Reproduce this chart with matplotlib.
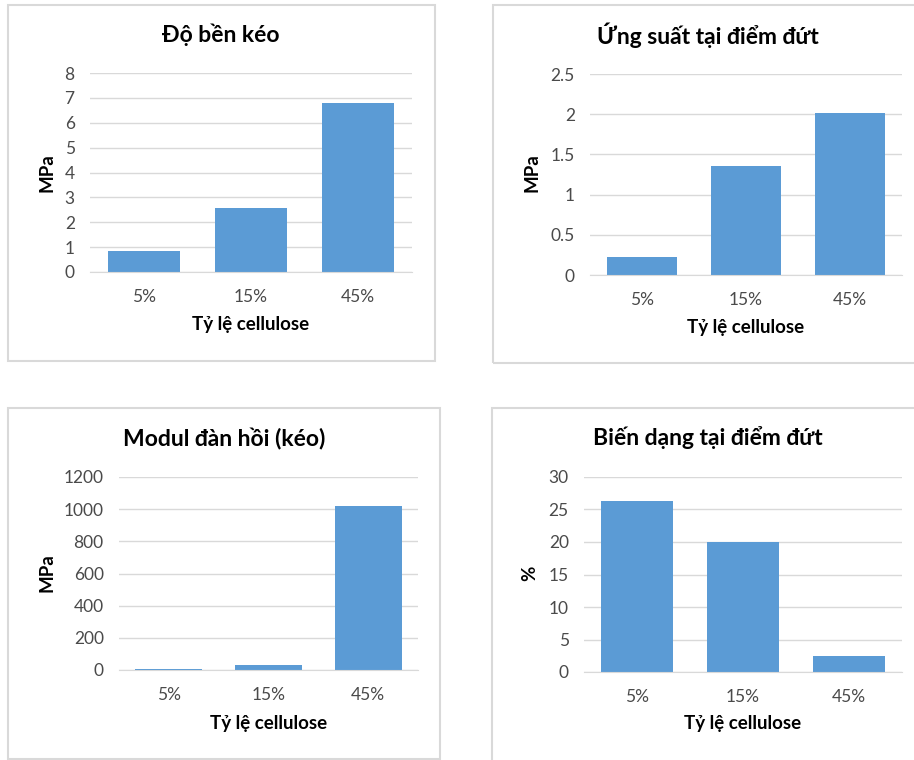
import matplotlib
matplotlib.use('Agg')
from matplotlib import pyplot as plt
from matplotlib.patches import Rectangle

plt.rcParams['font.family'] = ['Lato', 'Noto Sans', 'DejaVu Sans']

# data for the four panels
categories = ['5%', '15%', '45%']
tensile_strength = [0.86, 2.58, 6.78]
stress_at_break = [0.23, 1.36, 2.01]
tensile_modulus = [8, 31, 1022]
strain_at_break = [26.35, 20.0, 2.5]

titles = ['Độ bền kéo', 'Ứng suất tại điểm đứt', 'Modul đàn hồi (kéo)', 'Biến dạng tại điểm đứt']
ylabels = ['MPa', 'MPa', 'MPa', '%']
xlabel = 'Tỷ lệ cellulose'
yticks_list = [
    [0, 1, 2, 3, 4, 5, 6, 7, 8],
    [0, 0.5, 1, 1.5, 2, 2.5],
    [0, 200, 400, 600, 800, 1000, 1200],
    [0, 5, 10, 15, 20, 25, 30],
]
ytick_labels = [
    ['0', '1', '2', '3', '4', '5', '6', '7', '8'],
    ['0', '0.5', '1', '1.5', '2', '2.5'],
    ['0', '200', '400', '600', '800', '1000', '1200'],
    ['0', '5', '10', '15', '20', '25', '30'],
]

W, H = 914, 760
BAR = '#5B9BD5'
GRID = '#D9D9D9'
TXT = '#4a4a4a'

fig = plt.figure(figsize=(W / 100, H / 100), dpi=100)
fig.patch.set_facecolor('white')


def px_box(left, top, right, bottom):
    return [left / W, 1 - bottom / H, (right - left) / W, (bottom - top) / H]


def draw_frame(left, top, right, bottom):
    r = Rectangle((left / W, 1 - bottom / H), (right - left) / W, (bottom - top) / H,
                  transform=fig.transFigure, fill=False, edgecolor=GRID, linewidth=1.5)
    fig.patches.append(r)


# chart frames (pixels: left, top, right, bottom)
frames = [(8, 5, 435, 361), (493, 5, 920, 363), (8, 408, 440, 759), (492, 408, 920, 770)]
# plot areas
areas = [(90, 73, 412, 272), (590, 74, 902, 275), (119, 477, 418, 670), (584, 477, 902, 672)]
title_pos = [(221, 35), (708, 35), (224, 439), (708, 438)]
ylabel_pos = [(47, 173), (532, 173), (47, 573), (530, 573)]
xlabel_y = [325, 327, 723, 723]
values = [tensile_strength, stress_at_break, tensile_modulus, strain_at_break]

for i in range(4):
    draw_frame(*frames[i])
    ax = fig.add_axes(px_box(*areas[i]))
    x = range(len(categories))
    ax.bar(x, values[i], width=0.67, color=BAR, zorder=3)
    ax.set_xlim(-0.5, 2.5)
    ax.set_ylim(yticks_list[i][0], yticks_list[i][-1])
    ax.set_yticks(yticks_list[i])
    ax.set_yticklabels(ytick_labels[i])
    ax.set_xticks(list(x))
    ax.set_xticklabels(categories)
    ax.tick_params(axis='both', length=0, labelsize=12.5, labelcolor=TXT)
    ax.tick_params(axis='y', pad=11)
    ax.tick_params(axis='x', pad=12)
    ax.grid(axis='y', color=GRID, linewidth=1, zorder=0)
    for s in ['top', 'right', 'left']:
        ax.spines[s].set_visible(False)
    ax.spines['bottom'].set_color(GRID)
    ax.spines['bottom'].set_zorder(4)

    left, top, right, bottom = areas[i]
    fig.text((left + right) / 2 / W, 1 - xlabel_y[i] / H, xlabel, fontsize=13.5,
             fontweight='bold', ha='center', va='center')
    tx, ty = title_pos[i]
    fig.text(tx / W, 1 - ty / H, titles[i], fontsize=16.5, fontweight='bold',
             ha='center', va='center')
    lx, ly = ylabel_pos[i]
    fig.text(lx / W, 1 - ly / H, ylabels[i], fontsize=13.5, fontweight='bold',
             rotation=90, ha='center', va='center')

fig.savefig('out.png', dpi=100)
